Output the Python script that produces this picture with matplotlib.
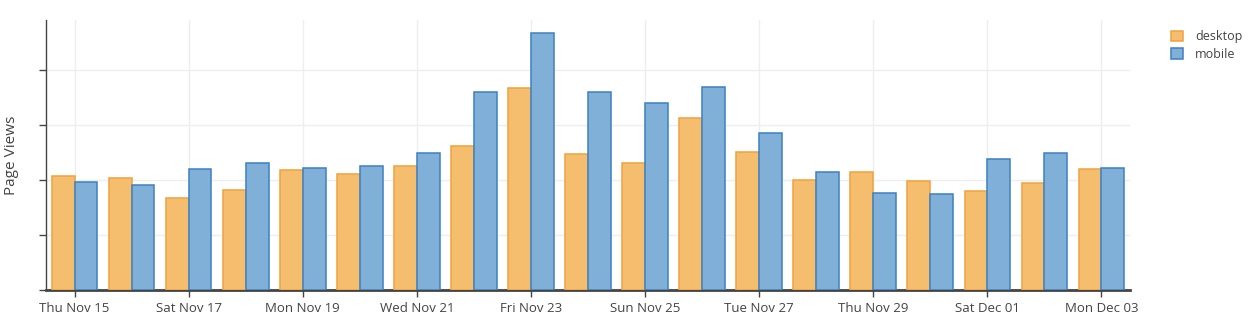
import matplotlib.pyplot as plt
import matplotlib.dates as mdates
import numpy as np
import pandas as pd

# daily page views, split by platform
days = pd.date_range('2018-11-15', '2018-12-03', freq='D')
desktop = [2077, 2029, 1665, 1816, 2180, 2107, 2253, 2617, 3668, 2472,
           2308, 3122, 2514, 1998, 2149, 1974, 1792, 1938, 2193]
mobile = [1967, 1902, 2204, 2302, 2222, 2259, 2490, 3596, 4670, 3596,
          3406, 3687, 2849, 2138, 1761, 1738, 2375, 2484, 2211]
y_ticks = [0, 1000, 2000, 3000, 4000]

plt.rcParams['font.family'] = ['Open Sans', 'DejaVu Sans']

fig = plt.figure(figsize=(12.54, 3.29), dpi=100)
ax = fig.add_axes([46 / 1254, 1 - 290 / 329, (1130 - 46) / 1254, (290 - 20) / 329])

x = mdates.date2num(days)
w = 0.4
ax.bar(x - w / 2, desktop, width=w, color='#f5be6f', edgecolor='#f2a03d',
       linewidth=1.1, label='desktop', zorder=3)
ax.bar(x + w / 2, mobile, width=w, color='#80b0d8', edgecolor='#3b81c1',
       linewidth=1.1, label='mobile', zorder=3)

ax.set_xlim(x[0] - 0.5, x[-1] + 0.5)
ax.set_ylim(0, 4910)
ax.set_yticks(y_ticks)
ax.set_yticklabels([])
ax.set_xticks(x[::2])
ax.xaxis.set_major_formatter(mdates.DateFormatter('%a %b %d'))

ax.grid(True, color='#eeeeee', linewidth=1, zorder=0)
ax.set_axisbelow(True)
for side in ['top', 'right']:
    ax.spines[side].set_visible(False)
ax.spines['left'].set_color('#444444')
ax.spines['left'].set_linewidth(1)
ax.spines['bottom'].set_color('#444444')
ax.spines['bottom'].set_linewidth(2)
ax.tick_params(axis='both', color='#444444', length=5, width=1,
               labelsize=9.5, labelcolor='#444444')
ax.tick_params(axis='x', pad=4)

ax.set_ylabel('Page Views', fontsize=11, color='#444444')
ax.yaxis.set_label_coords(-27 / 1084, 0.5)

fig.legend(loc='upper left', bbox_to_anchor=(1160 / 1254, 1 - 19 / 329),
           frameon=False, fontsize=9, handlelength=0.9, handleheight=0.9,
           handletextpad=1.0, labelspacing=0.35, labelcolor='#444444')

fig.savefig('out.png', dpi=100)
